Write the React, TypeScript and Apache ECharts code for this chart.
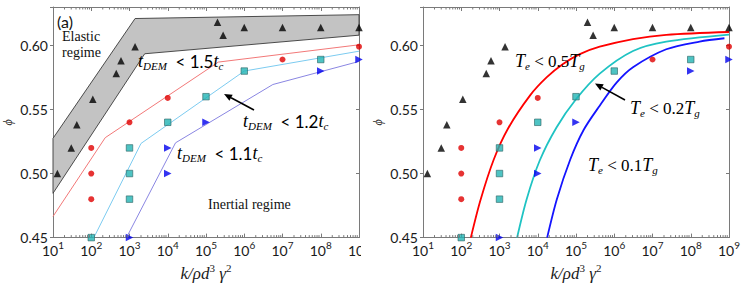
import React, { useEffect, useRef } from 'react';
import * as echarts from 'echarts';

// ---- axis ranges ----
const xMin = 10;
const xMax = 1e9;
const yMin = 0.45;
const yMax = 0.63;
const yTickValues = [0.45, 0.5, 0.55, 0.6];

// ---- scatter data (shared by both panels) ----
const blackTriK = [13, 30, 42, 110, 450, 600, 1400, 2e5, 2.8e5, 1e6, 1e7, 1e8, 1e9];
const blackTriPhi = [0.5, 0.52, 0.538, 0.558, 0.578, 0.588, 0.599, 0.618, 0.608, 0.614, 0.614, 0.614, 0.614];
const redCircK = [100, 100, 100, 1000, 1e4, 1e7, 1e9];
const redCircPhi = [0.52, 0.5, 0.48, 0.54, 0.559, 0.589, 0.599];
const cyanSqK = [100, 1000, 1000, 1000, 1e4, 1e5, 1e6, 1e8];
const cyanSqPhi = [0.45, 0.52, 0.5, 0.48, 0.54, 0.56, 0.58, 0.589];
const blueTriK = [1000, 1e4, 1e4, 1e5, 1e8, 1e9];
const blueTriPhi = [0.45, 0.52, 0.5, 0.54, 0.58, 0.589];

// ---- left panel: elastic band and piecewise lines ----
const bandUpperK = [10, 1400, 1e9];
const bandUpperPhi = [0.5275, 0.621, 0.624];
const bandLowerK = [10, 2500, 1e9];
const bandLowerPhi = [0.4846, 0.5935, 0.608];
const redLineK = [10, 232, 2.1e5, 1e9];
const redLinePhi = [0.4665, 0.528, 0.587, 0.6005];
const cyanLineK = [117, 2000, 1e6, 1e9];
const cyanLinePhi = [0.45, 0.5235, 0.58, 0.5955];
const blueLineK = [835, 1.6e4, 5.6e6, 1e9];
const blueLinePhi = [0.45, 0.524, 0.5695, 0.5875];

// ---- right panel: curves ----
const redCurveK = [178, 316, 708, 1660, 6310, 17000, 45700, 1.26e5, 4.17e5, 3.09e6, 2.29e7, 1e9];
const redCurvePhi = [0.45, 0.479, 0.511, 0.535, 0.561, 0.575, 0.5855, 0.5932, 0.599, 0.605, 0.6083, 0.6105];
const cyanCurveK = [2880, 5130, 11200, 30900, 1e5, 4.17e5, 3.09e6, 2.29e7, 1e9];
const cyanCurvePhi = [0.45, 0.48, 0.51, 0.536, 0.558, 0.578, 0.5957, 0.603, 0.6085];
const blueCurveK = [17600, 31600, 70800, 1.58e5, 4.17e5, 1.15e6, 3.09e6, 2.29e7, 1.7e8, 7.6e8];
const blueCurvePhi = [0.45, 0.48, 0.511, 0.534, 0.553, 0.571, 0.583, 0.597, 0.603, 0.6056];

// minor tick positions of the log axis (2..9 x 10^n)
const minorTickK: number[] = [];
for (let e = 1; e < 9; e++) for (let m = 2; m <= 9; m++) minorTickK.push(m * Math.pow(10, e));

const zip = (a: number[], b: number[]) => a.map((v, i) => [v, b[i]]);

const AXIS_GRAY = '#7a7a7a';
const LABEL_COLOR = '#1a1a1a';
const SERIF = '"Liberation Serif", "DejaVu Serif", serif';
const SANS = 'Lato, "Liberation Sans", sans-serif';

function xAxisDef(gridIndex: number, position: 'bottom' | 'top', labels: boolean) {
  return {
    type: 'log',
    logBase: 10,
    gridIndex,
    position,
    min: xMin,
    max: xMax,
    splitNumber: 8,
    axisLine: { show: true, lineStyle: { color: AXIS_GRAY, width: 1 } },
    axisTick: { show: true, inside: true, length: 4, lineStyle: { color: AXIS_GRAY } },
    splitLine: { show: false },
    axisLabel: labels
      ? {
          show: true,
          margin: 2,
          formatter: (v: number) => `{b|10}{s|${Math.round(Math.log10(v))}}`,
          rich: {
            b: { fontFamily: SANS, fontSize: 14, lineHeight: 22, verticalAlign: 'middle', color: LABEL_COLOR },
            s: { fontFamily: SANS, fontSize: 10, lineHeight: 10, verticalAlign: 'top', color: LABEL_COLOR },
          },
        }
      : { show: false },
    name: labels ? '{i|k/ρd}{s|3}{i| γ}{s|2}' : '',
    nameLocation: 'middle',
    nameGap: 22,
    nameTextStyle: {
      rich: {
        i: { fontFamily: SERIF, fontStyle: 'italic', fontSize: 17, lineHeight: 22, verticalAlign: 'middle', color: LABEL_COLOR },
        s: { fontFamily: SERIF, fontSize: 11, lineHeight: 15, verticalAlign: 'top', color: LABEL_COLOR },
      },
    },
  };
}

function yAxisDef(gridIndex: number, position: 'left' | 'right', labels: boolean) {
  return {
    type: 'value',
    gridIndex,
    position,
    min: yMin,
    max: yMax,
    interval: 0.05,
    axisLine: { show: true, lineStyle: { color: AXIS_GRAY, width: 1 } },
    axisTick: { show: true, inside: position === 'right', length: 3, lineStyle: { color: AXIS_GRAY } },
    splitLine: { show: false },
    axisLabel: labels
      ? {
          show: true,
          margin: 5,
          fontFamily: SANS,
          fontSize: 14,
          color: LABEL_COLOR,
          formatter: (v: number) => (yTickValues.some((t) => Math.abs(t - v) < 1e-6) ? v.toFixed(2) : ''),
        }
      : { show: false },
    name: labels ? 'ϕ' : '',
    nameLocation: 'middle',
    nameRotate: 90,
    nameGap: 39,
    nameTextStyle: { fontFamily: SERIF, fontStyle: 'italic', fontSize: 12, color: LABEL_COLOR },
  };
}

function scatterSeries(xi: number, yi: number) {
  return [
    {
      type: 'scatter', xAxisIndex: xi, yAxisIndex: yi, z: 5,
      data: zip(blackTriK, blackTriPhi), symbol: 'triangle', symbolSize: 7.5,
      itemStyle: { color: '#000000' },
    },
    {
      type: 'scatter', xAxisIndex: xi, yAxisIndex: yi, z: 5,
      data: zip(redCircK, redCircPhi), symbol: 'circle', symbolSize: 6,
      itemStyle: { color: '#e00000' },
    },
    {
      type: 'scatter', xAxisIndex: xi, yAxisIndex: yi, z: 5,
      data: zip(cyanSqK, cyanSqPhi), symbol: 'rect', symbolSize: 6.5,
      itemStyle: { color: '#22b4b4', borderColor: '#2f6666', borderWidth: 0.8 },
    },
    {
      type: 'scatter', xAxisIndex: xi, yAxisIndex: yi, z: 5,
      data: zip(blueTriK, blueTriPhi), symbol: 'triangle', symbolSize: 7.5, symbolRotate: -90,
      itemStyle: { color: '#0000ee' },
    },
  ];
}

function minorTickSeries(xi: number, yi: number) {
  return {
    type: 'custom', xAxisIndex: xi, yAxisIndex: yi, z: 6, silent: true, clip: false,
    data: minorTickK.map((v) => [v, yMin]),
    renderItem: (_p: any, api: any) => {
      const b = api.coord([api.value(0), yMin]);
      const t = api.coord([api.value(0), yMax]);
      const st = { stroke: AXIS_GRAY, lineWidth: 1 };
      return {
        type: 'group',
        children: [
          { type: 'line', shape: { x1: b[0], y1: b[1], x2: b[0], y2: b[1] - 2.5 }, style: st },
          { type: 'line', shape: { x1: t[0], y1: t[1], x2: t[0], y2: t[1] + 2.5 }, style: st },
        ],
      };
    },
  };
}

function lineSeries(xi: number, yi: number, k: number[], phi: number[], color: string, width: number, smooth: boolean) {
  return {
    type: 'line', xAxisIndex: xi, yAxisIndex: yi, z: 3,
    data: zip(k, phi), showSymbol: false, symbol: 'none',
    smooth: smooth ? 0.3 : false,
    lineStyle: { color, width },
    silent: true,
  };
}

const mathRich = (upFont: string) => ({
  i: { fontFamily: SERIF, fontStyle: 'italic', fontSize: 18, lineHeight: 20, verticalAlign: 'middle', fill: '#000' },
  s: { fontFamily: SERIF, fontStyle: 'italic', fontSize: 11, lineHeight: 10, verticalAlign: 'bottom', fill: '#000' },
  n: { fontFamily: upFont, fontSize: 17, lineHeight: 20, verticalAlign: 'middle', fill: '#000' },
});

function mathText(x: number, y: number, text: string, upFont: string) {
  return {
    type: 'text', x, y, z: 50,
    style: { text, rich: mathRich(upFont), verticalAlign: 'middle', align: 'left' },
  };
}

function arrow(x1: number, y1: number, x2: number, y2: number) {
  const dx = x2 - x1;
  const dy = y2 - y1;
  const len = Math.sqrt(dx * dx + dy * dy);
  const ux = dx / len;
  const uy = dy / len;
  const hl = 8;
  const hw = 3.5;
  const bx = x2 - ux * hl;
  const by = y2 - uy * hl;
  return [
    { type: 'line', z: 50, shape: { x1, y1, x2: bx, y2: by }, style: { stroke: '#000', lineWidth: 1.6 } },
    {
      type: 'polygon', z: 50,
      shape: { points: [[x2, y2], [bx - uy * hw, by + ux * hw], [bx + uy * hw, by - ux * hw]] },
      style: { fill: '#000' },
    },
  ];
}

export default function App() {
  const ref = useRef<HTMLDivElement>(null);

  useEffect(() => {
    if (!ref.current) return;
    const chart = echarts.init(ref.current, null, { renderer: 'svg' });

    const option: any = {
      animation: false,
      backgroundColor: '#ffffff',
      grid: [
        { left: 53, top: 7, width: 306, height: 231 },
        { left: 423, top: 7, width: 306, height: 231 },
      ],
      xAxis: [
        xAxisDef(0, 'bottom', true),
        xAxisDef(0, 'top', false),
        xAxisDef(1, 'bottom', true),
        xAxisDef(1, 'top', false),
      ],
      yAxis: [
        yAxisDef(0, 'left', true),
        yAxisDef(0, 'right', false),
        yAxisDef(1, 'left', true),
        yAxisDef(1, 'right', false),
      ],
      series: [
        // left panel
        {
          type: 'custom', xAxisIndex: 0, yAxisIndex: 0, z: 1, silent: true,
          data: [[bandUpperK[0], bandUpperPhi[0]]],
          renderItem: (_p: any, api: any) => {
            const pts: number[][] = [];
            for (let i = 0; i < bandUpperK.length; i++) pts.push(api.coord([bandUpperK[i], bandUpperPhi[i]]));
            for (let i = bandLowerK.length - 1; i >= 0; i--) pts.push(api.coord([bandLowerK[i], bandLowerPhi[i]]));
            return {
              type: 'polygon',
              shape: { points: pts },
              style: { fill: '#c3c3c3', stroke: '#3a3a3a', lineWidth: 0.9 },
            };
          },
        },
        lineSeries(0, 0, redLineK, redLinePhi, '#f27878', 1, false),
        lineSeries(0, 0, cyanLineK, cyanLinePhi, '#7ccbf0', 1, false),
        lineSeries(0, 0, blueLineK, blueLinePhi, '#8a86e2', 1, false),
        ...scatterSeries(0, 0),
        minorTickSeries(0, 0),
        // right panel
        lineSeries(2, 2, redCurveK, redCurvePhi, '#ff0000', 1.8, true),
        lineSeries(2, 2, cyanCurveK, cyanCurvePhi, '#1fc3c3', 1.8, true),
        lineSeries(2, 2, blueCurveK, blueCurvePhi, '#1414ff', 1.8, true),
        ...scatterSeries(2, 2),
        minorTickSeries(2, 2),
      ],
      graphic: {
        elements: [
          // hide the clipped end of the left panel's last tick label
          { type: 'rect', z: 100, shape: { x: 361, y: 239, width: 26, height: 24 }, style: { fill: '#ffffff' } },
          { type: 'text', x: 57, y: 21, z: 50, style: { text: '(a)', fontFamily: SANS, fontSize: 16, fill: '#111', verticalAlign: 'middle' } },
          { type: 'text', x: 62, y: 36, z: 50, style: { text: 'Elastic', fontFamily: SERIF, fontSize: 14, fill: '#111', verticalAlign: 'middle' } },
          { type: 'text', x: 62, y: 52, z: 50, style: { text: 'regime', fontFamily: SERIF, fontSize: 14, fill: '#111', verticalAlign: 'middle' } },
          { type: 'text', x: 208, y: 204, z: 50, style: { text: 'Inertial regime', fontFamily: SERIF, fontSize: 14, fill: '#111', verticalAlign: 'middle' } },
          mathText(138, 61, '{i|t}{s|DEM}{n|  < 1.5}{i|t}{s|c}', SANS),
          mathText(243, 121, '{i|t}{s|DEM}{n|  < 1.2}{i|t}{s|c}', SANS),
          mathText(177, 153, '{i|t}{s|DEM}{n|  < 1.1}{i|t}{s|c}', SANS),
          mathText(515, 61, '{i|T}{s|e}{n| < 0.5}{i|T}{s|g}', SERIF),
          mathText(630, 108, '{i|T}{s|e}{n| < 0.2}{i|T}{s|g}', SERIF),
          mathText(588, 165, '{i|T}{s|e}{n| < 0.1}{i|T}{s|g}', SERIF),
          ...arrow(254, 110, 224, 94),
          ...arrow(625, 100, 595, 83.5),
        ],
      },
    };

    chart.setOption(option);
    return () => chart.dispose();
  }, []);

  return (
    <div
      ref={ref}
      style={{ position: 'absolute', left: 0, top: 0, width: 747, height: 287, background: '#fff' }}
    />
  );
}
